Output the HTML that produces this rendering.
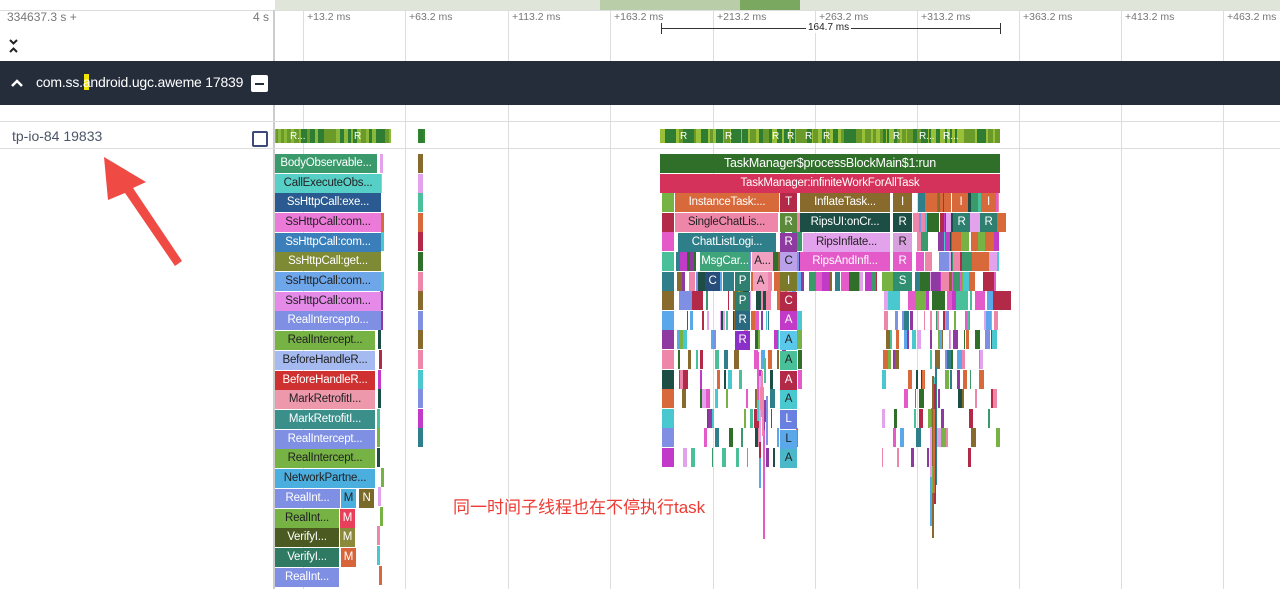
<!DOCTYPE html>
<html><head><meta charset="utf-8">
<style>
body{margin:0;width:1280px;height:589px;overflow:hidden;background:#fff;font-family:"Liberation Sans","Noto Sans CJK SC",sans-serif;position:relative}
.a{position:absolute}
.s{position:absolute;height:19px;color:#fff;font-size:11.5px;letter-spacing:-0.2px;line-height:19px;text-align:center;overflow:hidden;white-space:nowrap}
.d{color:#222}
.g{position:absolute;top:10px;width:1px;background:#ddd;height:579px}
.t{position:absolute;top:11px;font-size:10.5px;color:#777}
</style></head><body>
<div class="a" style="left:275px;top:0;width:1005px;height:10px;background:#dfe5d8"></div>
<div class="a" style="left:600px;top:0;width:200px;height:10px;background:#b9cda8"></div>
<div class="a" style="left:740px;top:0;width:60px;height:10px;background:#7aa860"></div>
<div class="a" style="left:0;top:10px;width:1280px;height:1px;background:#ddd"></div>
<div class="a" style="left:273px;top:10px;width:2px;height:579px;background:#ccc"></div>
<div class="g" style="left:303px"></div><div class="g" style="left:405px"></div><div class="g" style="left:508px"></div><div class="g" style="left:610px"></div><div class="g" style="left:713px"></div><div class="g" style="left:815px"></div><div class="g" style="left:917px"></div><div class="g" style="left:1019px"></div><div class="g" style="left:1121px"></div><div class="g" style="left:1223px"></div>
<div class="t" style="left:7px;font-size:12px;top:10px">334637.3 s +</div>
<div class="t" style="left:253px;font-size:12px;top:10px">4 s</div>
<div class="t" style="left:307px">+13.2 ms</div><div class="t" style="left:409px">+63.2 ms</div><div class="t" style="left:512px">+113.2 ms</div><div class="t" style="left:614px">+163.2 ms</div><div class="t" style="left:717px">+213.2 ms</div><div class="t" style="left:819px">+263.2 ms</div><div class="t" style="left:921px">+313.2 ms</div><div class="t" style="left:1023px">+363.2 ms</div><div class="t" style="left:1125px">+413.2 ms</div><div class="t" style="left:1227px">+463.2 ms</div>
<div class="a" style="left:661px;top:28px;width:340px;height:1px;background:#333"></div>
<div class="a" style="left:661px;top:23px;width:1px;height:11px;background:#333"></div>
<div class="a" style="left:1000px;top:23px;width:1px;height:11px;background:#333"></div>
<div class="a" style="left:806px;top:22px;font-size:10px;background:#fff;padding:0 2px;color:#222">164.7 ms</div>
<svg class="a" style="left:8px;top:38px" width="12" height="16"><polyline points="2,2 5.5,5.5 9,2" fill="none" stroke="#222" stroke-width="2"/><polyline points="2,14 5.5,10.5 9,14" fill="none" stroke="#222" stroke-width="2"/></svg>
<div class="a" style="left:0;top:61px;width:1280px;height:44px;background:#252d3a"></div>
<svg class="a" style="left:11px;top:78px" width="14" height="10"><polyline points="1,8 6,3 11,8" fill="none" stroke="#fff" stroke-width="2.5"/></svg>
<div class="a" style="left:84px;top:74px;width:5px;height:16px;background:#f2e600"></div>
<div class="a" style="left:36px;top:74px;color:#fff;font-size:14px;letter-spacing:-0.2px">com.ss.android.ugc.aweme 17839</div>
<div class="a" style="left:251px;top:75px;width:17px;height:17px;background:#fff;border-radius:2px"></div>
<div class="a" style="left:255px;top:83px;width:9px;height:2px;background:#252d3a"></div>
<div class="a" style="left:0;top:121px;width:1280px;height:1px;background:#ddd"></div>
<div class="a" style="left:0;top:148px;width:1280px;height:1px;background:#ddd"></div>
<div class="a" style="left:12px;top:128px;font-size:14px;color:#4a5568">tp-io-84 19833</div>
<div class="a" style="left:252px;top:131px;width:12px;height:12px;border:2px solid #3b4a7a;border-radius:2px"></div>
<div id="cv"></div>
<div class="s" style="left:275px;top:154px;width:102px;background:#3a9a6c">BodyObservable...</div>
<div class="s d" style="left:275px;top:174px;width:106px;background:#56cfc6">CallExecuteObs...</div>
<div class="s" style="left:275px;top:193px;width:106px;background:#2a5a8f">SsHttpCall:exe...</div>
<div class="s d" style="left:275px;top:213px;width:106px;background:#ec7ad9">SsHttpCall:com...</div>
<div class="s" style="left:275px;top:233px;width:106px;background:#3b7fba">SsHttpCall:com...</div>
<div class="s" style="left:275px;top:252px;width:106px;background:#7f8a34">SsHttpCall:get...</div>
<div class="s d" style="left:275px;top:272px;width:106px;background:#6ea6ea">SsHttpCall:com...</div>
<div class="s d" style="left:275px;top:292px;width:106px;background:#e58ae8">SsHttpCall:com...</div>
<div class="s" style="left:275px;top:311px;width:106px;background:#7f8fe3">RealIntercepto...</div>
<div class="s d" style="left:275px;top:331px;width:100px;background:#76b244">RealIntercept...</div>
<div class="s d" style="left:275px;top:351px;width:100px;background:#a5baf0">BeforeHandleR...</div>
<div class="s" style="left:275px;top:371px;width:100px;background:#cf3131">BeforeHandleR...</div>
<div class="s d" style="left:275px;top:390px;width:100px;background:#ee98ac">MarkRetrofitI...</div>
<div class="s" style="left:275px;top:410px;width:100px;background:#3a8f8a">MarkRetrofitI...</div>
<div class="s" style="left:275px;top:430px;width:100px;background:#7f8fe3">RealIntercept...</div>
<div class="s d" style="left:275px;top:449px;width:100px;background:#76b244">RealIntercept...</div>
<div class="s d" style="left:275px;top:469px;width:100px;background:#4aaedf">NetworkPartne...</div>
<div class="s" style="left:275px;top:489px;width:65px;background:#7f8fe3">RealInt...</div>
<div class="s d" style="left:341px;top:489px;width:15px;background:#4aaedf">M</div>
<div class="s" style="left:359px;top:489px;width:15px;background:#7a6a2a">N</div>
<div class="s d" style="left:275px;top:509px;width:64px;background:#76b244">RealInt...</div>
<div class="s" style="left:340px;top:509px;width:15px;background:#e8405a">M</div>
<div class="s" style="left:275px;top:528px;width:64px;background:#4a5a20">VerifyI...</div>
<div class="s" style="left:340px;top:528px;width:15px;background:#8a8a3a">M</div>
<div class="s" style="left:275px;top:548px;width:64px;background:#2f7a62">VerifyI...</div>
<div class="s" style="left:341px;top:548px;width:15px;background:#d8643a">M</div>
<div class="s" style="left:275px;top:568px;width:64px;background:#7f8fe3">RealInt...</div>
<div class="s" style="left:660px;top:154px;width:340px;background:#2f6f2a;font-size:12.5px">TaskManager$processBlockMain$1:run</div>
<div class="s" style="left:660px;top:174px;width:340px;background:#d4325a">TaskManager:infiniteWorkForAllTask</div>
<div class="s" style="left:675px;top:193px;width:104px;background:#d8693a">InstanceTask:...</div>
<div class="s" style="left:780px;top:193px;width:17px;background:#b22a48">T</div>
<div class="s" style="left:800px;top:193px;width:90px;background:#876a2c">InflateTask...</div>
<div class="s" style="left:893px;top:193px;width:19px;background:#876a2c">I</div>
<div class="s" style="left:954px;top:193px;width:14px;background:#d8693a">I</div>
<div class="s" style="left:981px;top:193px;width:15px;background:#d8693a">I</div>
<div class="s d" style="left:675px;top:213px;width:103px;background:#ee86aa">SingleChatLis...</div>
<div class="s" style="left:780px;top:213px;width:17px;background:#5a8a3a">R</div>
<div class="s" style="left:800px;top:213px;width:90px;background:#1d4e45">RipsUI:onCr...</div>
<div class="s" style="left:893px;top:213px;width:19px;background:#1d4e45">R</div>
<div class="s" style="left:953px;top:213px;width:17px;background:#2f7f70">R</div>
<div class="s" style="left:980px;top:213px;width:17px;background:#2f7f70">R</div>
<div class="s" style="left:678px;top:233px;width:98px;background:#2f7f8a">ChatListLogi...</div>
<div class="s" style="left:780px;top:233px;width:17px;background:#8e3aa0">R</div>
<div class="s d" style="left:803px;top:233px;width:87px;background:#e3a3ec">RipsInflate...</div>
<div class="s d" style="left:893px;top:233px;width:19px;background:#d9a0e0">R</div>
<div class="s" style="left:700px;top:252px;width:50px;background:#3fa47a">MsgCar...</div>
<div class="s d" style="left:752px;top:252px;width:21px;background:#f2a0c0">A...</div>
<div class="s d" style="left:780px;top:252px;width:17px;background:#b9a0e8">C</div>
<div class="s" style="left:800px;top:252px;width:90px;background:#e35ac8">RipsAndInfl...</div>
<div class="s" style="left:893px;top:252px;width:19px;background:#e35ac8">R</div>
<div class="s" style="left:705px;top:272px;width:15px;background:#274d7a">C</div>
<div class="s" style="left:735px;top:272px;width:15px;background:#2f7f70">P</div>
<div class="s d" style="left:753px;top:272px;width:15px;background:#f2a0c0">A</div>
<div class="s" style="left:780px;top:272px;width:17px;background:#7a7a2a">I</div>
<div class="s" style="left:893px;top:272px;width:19px;background:#2f8f70">S</div>
<div class="s" style="left:735px;top:292px;width:15px;background:#2f7f70">P</div>
<div class="s" style="left:780px;top:292px;width:17px;background:#b22a48">C</div>
<div class="s" style="left:735px;top:311px;width:15px;background:#2a6a80">R</div>
<div class="s" style="left:780px;top:311px;width:17px;background:#c23ac8">A</div>
<div class="s" style="left:735px;top:331px;width:15px;background:#8a30c8">R</div>
<div class="s d" style="left:780px;top:331px;width:17px;background:#5ac8ea">A</div>
<div class="s d" style="left:780px;top:351px;width:17px;background:#4ac09a">A</div>
<div class="s" style="left:780px;top:371px;width:17px;background:#b22a48">A</div>
<div class="s d" style="left:780px;top:390px;width:17px;background:#4ac8d0">A</div>
<div class="s" style="left:780px;top:410px;width:17px;background:#6a80e0">L</div>
<div class="s d" style="left:780px;top:430px;width:17px;background:#5aa8ea">L</div>
<div class="s d" style="left:780px;top:449px;width:17px;background:#4ab8c8">A</div>
<svg class="a" style="left:0;top:0" width="300" height="300"><polygon points="104,157 146,182 133,188 182,261 175,266 125,193 108,200" fill="#f04a45"/></svg>
<div class="a" style="left:453px;top:493px;font-size:17px;color:#ee3a32">同一时间子线程也在不停执行task</div>
<script>
var s=7;function r(){s=(s*16807)%2147483647;return s/2147483647;}
var C=['#3a9a6c','#2f6f2a','#76b244','#b22a48','#e35ac8','#4ac09a','#2f7f8a','#876a2c','#5aa8ea','#8e3aa0','#ee86aa','#1d4e45','#d8693a','#4ac8d0','#7f8fe3','#c23ac8','#e3a3ec'];
var h='';
function bar(x,y,w,hh,c){h+='<div class="a" style="left:'+x+'px;top:'+y+'px;width:'+w+'px;height:'+hh+'px;background:'+c+'"></div>';}
bar(275,129,116,14,'#8ab83a');bar(418,129,7,14,'#2f8a2a');bar(660,129,340,14,'#9ac03a');
for(var x=276;x<1000;x+=3+r()*6){if((x>391&&x<418)||(x>425&&x<660))continue;bar(x,129,2+r()*5,14,r()<.65?'#2e7d32':'#6a9a2a');}
for(var i=0;i<22;i++){var y=154+i*19.6;bar(377+r()*4,y,3,19,C[Math.floor(r()*C.length)]);if(i<15)bar(418,y,5,19,C[Math.floor(r()*C.length)]);}
var lim=[0,0,20,20,20,20,17,15,13,11,10,8,7,6,5,4,3,2,1,1,1,0];
for(var i=2;i<22;i++){var y=Math.round(154+i*19.6);
 if(i<=15) bar(662,y,12,19,C[i%C.length]); if(i>15)continue;
 for(var k=0;k<lim[i]*4;k++){var x=676+r()*322;var w=1+r()*(i<8?12:4);
  if(i<6&&((x>675&&x<779&&i<5)||(x>799&&x<912)))continue;
  if(i>=7&&x>800&&x<880)continue;
  bar(x,y,w,19,C[Math.floor(r()*C.length)]);}}
for(var k=0;k<25;k++){var x=[757,762,930,932][k%4]+r()*4;bar(x,350+r()*100,2,20+r()*100,C[Math.floor(r()*C.length)]);}
document.getElementById('cv').innerHTML=h;
</script>
<div class="a" style="left:290px;top:131px;color:#fff;font-size:10px">R...</div>
<div class="a" style="left:354px;top:131px;color:#fff;font-size:10px">R</div>
<div class="a" style="left:680px;top:131px;color:#fff;font-size:10px">R</div><div class="a" style="left:725px;top:131px;color:#fff;font-size:10px">R</div><div class="a" style="left:772px;top:131px;color:#fff;font-size:10px">R</div><div class="a" style="left:787px;top:131px;color:#fff;font-size:10px">R</div><div class="a" style="left:805px;top:131px;color:#fff;font-size:10px">R</div><div class="a" style="left:823px;top:131px;color:#fff;font-size:10px">R</div><div class="a" style="left:893px;top:131px;color:#fff;font-size:10px">R</div><div class="a" style="left:919px;top:131px;color:#fff;font-size:10px">R...</div><div class="a" style="left:943px;top:131px;color:#fff;font-size:10px">R...</div>
</body></html>
